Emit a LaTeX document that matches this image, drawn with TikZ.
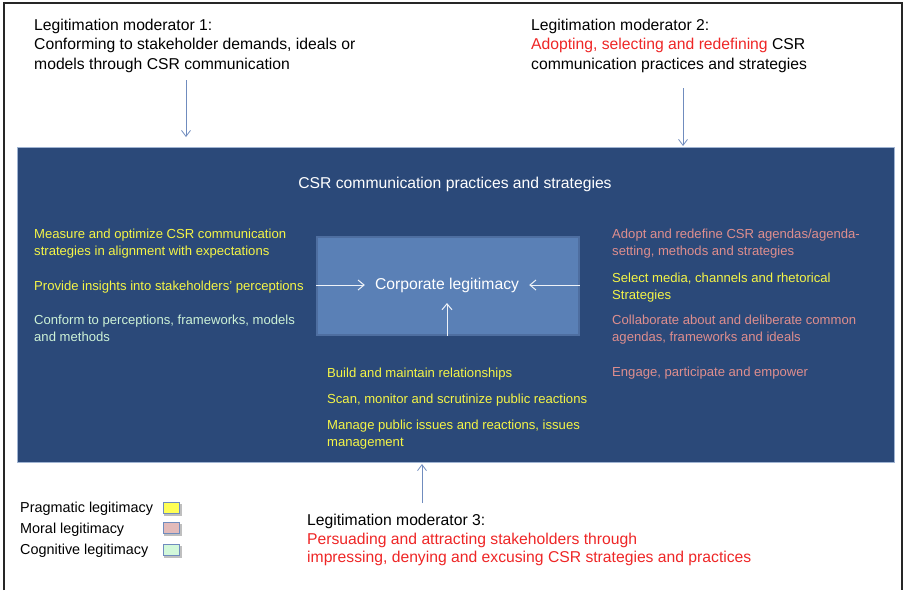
\documentclass[tikz,border=0pt]{standalone}
\usepackage{fontspec}
\setmainfont{Liberation Sans}
\usetikzlibrary{arrows.meta}

\definecolor{boxblue}{RGB}{43,73,121}
\definecolor{boxedge}{RGB}{160,180,210}
\definecolor{coreblue}{RGB}{90,128,182}
\definecolor{coreedge}{RGB}{78,110,160}
\definecolor{pragtext}{RGB}{245,245,70}
\definecolor{moraltext}{RGB}{222,142,142}
\definecolor{cogtext}{RGB}{205,242,215}
\definecolor{redtext}{RGB}{238,38,38}
\definecolor{steel}{RGB}{112,140,190}
\definecolor{pragfill}{RGB}{255,255,85}
\definecolor{moralfill}{RGB}{226,186,186}
\definecolor{cogfill}{RGB}{210,248,218}

\tikzset{
  big/.style={font=\fontsize{15.7}{19.5}\selectfont, anchor=north west, inner sep=0pt, align=left},
  item/.style={font=\fontsize{13.1}{16.5}\selectfont, anchor=north west, inner sep=0pt, align=left},
  legendtxt/.style={font=\fontsize{14.4}{16}\selectfont, anchor=north west, inner sep=0pt, text=black},
  modarrow/.style={draw=steel, line width=0.8pt, -{Straight Barb[length=6pt,width=9pt]}},
  corearrow/.style={draw=white!90!coreblue, line width=1pt, -{Straight Barb[length=6pt,width=10pt]}},
  swatch/.style={draw=steel, line width=1pt, minimum width=16pt, minimum height=11pt, inner sep=0pt},
}

\begin{document}
\begin{tikzpicture}[x=1pt,y=-1pt]
\useasboundingbox (0,0) rectangle (904,590);

% page frame (open at the bottom)
\draw[black!85, line width=2pt] (4,590) -- (4,3) -- (902,3) -- (902,590);

% moderators 1 and 2
\node[big] (m1) at (34,18.5) {Legitimation moderator 1:\\Conforming to stakeholder demands, ideals or\\models through CSR communication};
\node[big] (m2) at (531,18.5) {Legitimation moderator 2:\\\textcolor{redtext}{Adopting, selecting and redefining} CSR\\communication practices and strategies};

% main box
\node[draw=boxedge, line width=1.2pt, fill=boxblue, minimum width=877pt, minimum height=315pt, inner sep=0pt, anchor=north west] (main) at (16.5,146.5) {};
\node[font=\fontsize{15.7}{18}\selectfont, text=white, anchor=north, inner sep=0pt] (title) at (455,176.5) {CSR communication practices and strategies};

% central box
\node[draw=coreedge, line width=1.5pt, fill=coreblue, minimum width=262pt, minimum height=98pt, inner sep=0pt, anchor=north west] (core) at (316,236) {};
\node[font=\fontsize{15.7}{18}\selectfont, text=white, inner sep=2pt] (corelabel) at (447,285) {Corporate legitimacy};
\coordinate (inL) at (core.west |- corelabel);
\coordinate (inR) at (core.east |- corelabel);
\coordinate (inB) at (core.south -| corelabel);
\draw[corearrow] (inL) -- ([xshift=-8pt]corelabel.west);
\draw[corearrow] (inR) -- ([xshift=8pt]corelabel.east);
\draw[corearrow] (inB) -- (447,303);

% left column
\node[item, text=pragtext] (l1) at (34,229) {Measure and optimize CSR communication\\strategies in alignment with expectations};
\node[item, text=pragtext] (l2) at (34,280.5) {Provide insights into stakeholders' perceptions};
\node[item, text=cogtext] (l3) at (34,315) {Conform to perceptions, frameworks, models\\and methods};

% right column
\node[item, text=moraltext] (r1) at (612,229) {Adopt and redefine CSR agendas/agenda-\\setting, methods and strategies};
\node[item, text=pragtext] (r2) at (612,273) {Select media, channels and rhetorical\\Strategies};
\node[item, text=moraltext] (r3) at (612,315) {Collaborate about and deliberate common\\agendas, frameworks and ideals};
\node[item, text=moraltext] (r4) at (612,367) {Engage, participate and empower};

% bottom column
\node[item, text=pragtext] (b1) at (327,368) {Build and maintain relationships};
\node[item, text=pragtext] (b2) at (327,394) {Scan, monitor and scrutinize public reactions};
\node[item, text=pragtext] (b3) at (327,420) {Manage public issues and reactions, issues\\management};

% moderator 3
\node[big, font=\fontsize{15.7}{18.5}\selectfont] (m3) at (307,514) {Legitimation moderator 3:\\\textcolor{redtext}{Persuading and attracting stakeholders through}\\\textcolor{redtext}{impressing, denying and excusing CSR strategies and practices}};

% moderator arrows
\coordinate (m1a) at (186,80);
\coordinate (m1b) at (186,137);
\coordinate (m2a) at (683,88);
\coordinate (m2b) at (683,146);
\coordinate (m3a) at (422,503);
\coordinate (m3b) at (422,464);
\draw[modarrow] (m1a) -- (m1b);
\draw[modarrow] (m2a) -- (m2b);
\draw[modarrow] (m3a) -- (m3b);

% legend
\node[legendtxt] (lg1) at (20,502) {Pragmatic legitimacy};
\node[legendtxt] (lg2) at (20,523) {Moral legitimacy};
\node[legendtxt] (lg3) at (20,544) {Cognitive legitimacy};
\foreach \n/\y/\c in {s1/508/pragfill, s2/528/moralfill, s3/550/cogfill}{
  \fill[black!25] (172,\y+1.5) +(-8,-5.5) rectangle +(9.5,6.5);
  \node[swatch, fill=\c] (\n) at (171,\y) {};
}
\end{tikzpicture}
\end{document}
